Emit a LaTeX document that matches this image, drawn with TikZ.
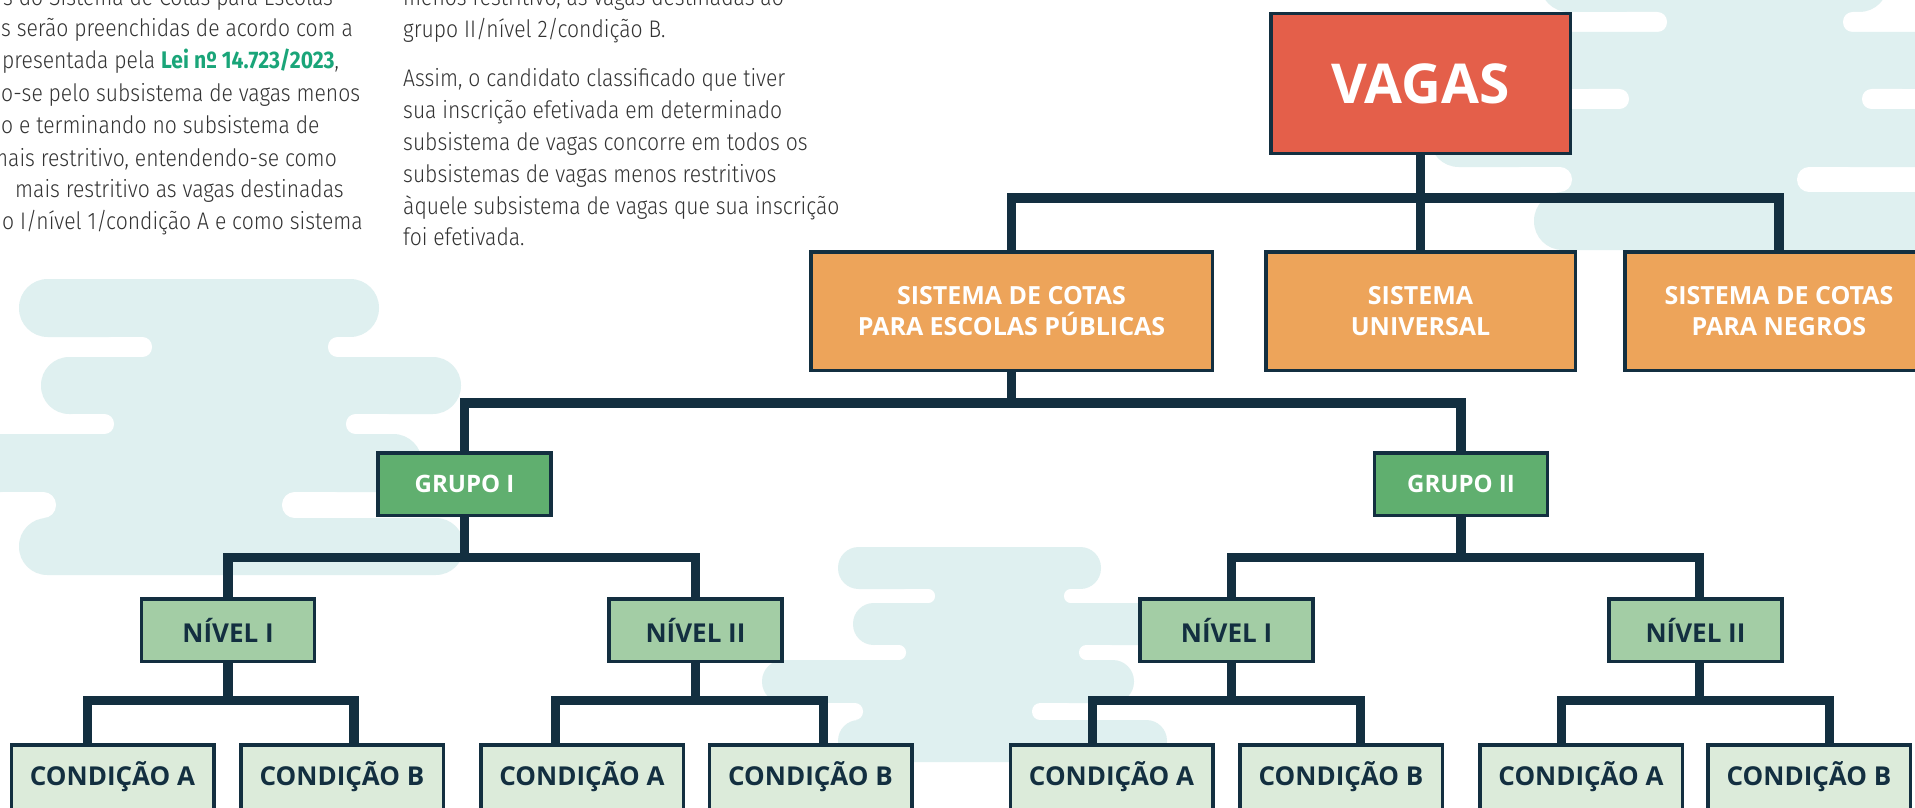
\documentclass[tikz,border=0pt]{standalone}
\usepackage{fontspec}
\setmainfont{Open Sans}
\IfFontExistsTF{Fira Sans Light}%
  {\newfontfamily\bodyfont[FakeStretch=0.88]{Fira Sans Light}}%
  {\newfontfamily\bodyfont[FakeStretch=0.88]{Fira Sans}}
\newfontfamily\leifont[FakeStretch=0.88]{Fira Sans}
\definecolor{navy}{HTML}{132F40}
\definecolor{vred}{HTML}{E45F4A}
\definecolor{vorange}{HTML}{EDA45A}
\definecolor{vgreen}{HTML}{60AF6F}
\definecolor{vlgreen}{HTML}{A3CDA5}
\definecolor{vpale}{HTML}{DCEBDA}
\definecolor{cloudc}{HTML}{DFF0F0}
\definecolor{bodyc}{HTML}{333333}
\definecolor{leic}{HTML}{1AA579}
\newcommand\cpill[4]{%
  \pgfmathsetmacro\rr{abs(#4-#2)/2-0.3}%
  \fill[cloudc, rounded corners=\rr pt] (#1,#2) rectangle (#3,#4);}
\newcommand\cgap[4]{%
  \pgfmathsetmacro\rr{abs(#4-#3)/2-0.3}%
  \pgfmathsetmacro\hh{abs(#4-#3)}%
  \fill[cloudc] ({#1-\hh},#3) rectangle ({#2+\hh},#4);
  \fill[white, rounded corners=\rr pt] ({#1-2.5*\hh},#3) rectangle (#1,#4);
  \fill[white, rounded corners=\rr pt] (#2,#3) rectangle ({#2+2.5*\hh},#4);}
\tikzset{
  box/.style={draw=navy, line width=3.5pt, inner sep=0pt, align=center},
  vagasbox/.style={box, fill=vred, text=white, minimum width=299.5pt, minimum height=139.5pt,
    font=\bfseries\fontsize{55}{60}\selectfont},
  sysbox/.style={box, fill=vorange, text=white, minimum height=118.5pt,
    font=\bfseries\fontsize{25}{31}\selectfont},
  grpbox/.style={box, fill=vgreen, text=white, minimum width=173pt, minimum height=62.5pt,
    font=\bfseries\fontsize{24}{28}\selectfont},
  nivbox/.style={box, fill=vlgreen, text=navy, minimum width=173pt, minimum height=62.5pt,
    font=\bfseries\fontsize{26}{30}\selectfont},
  condbox/.style={box, fill=vpale, text=navy, minimum width=202.5pt, minimum height=64.5pt,
    font=\bfseries\fontsize{26}{30}\selectfont},
  conn/.style={draw=navy, line width=9.5pt, line join=miter},
  body/.style={anchor=base west, inner sep=0pt, text=bodyc,
    font=\bodyfont\fontsize{24}{32}\selectfont},
}
\begin{document}
\begin{tikzpicture}[x=1pt,y=-1pt]
\useasboundingbox (0,0) rectangle (1915,808);
\clip (0,0) rectangle (1915,808);
\fill[white] (0,0) rectangle (1915,808);
% ---- clouds: left
\cpill{19}{279}{379}{337}
\cgap{152}{328}{337}{357}
\cpill{41}{357}{461}{414}
\cgap{114}{346}{414}{434}
\cpill{-60}{434}{422}{492}
\cgap{56}{282}{492}{518}
\cpill{19}{518}{464}{575}
% ---- clouds: middle
\cpill{838}{547}{1101}{589}
\cgap{935}{1064}{589}{603}
\cpill{853}{603}{1160}{645}
\cgap{906}{1079}{645}{660}
\cpill{762}{660}{1134}{703}
\cgap{863}{1032}{703}{720}
\cpill{838}{720}{1167}{762}
% ---- clouds: top right
\cpill{1540}{-46}{1888}{12}
\cgap{1667}{1843}{12}{32}
\cpill{1450}{32}{1990}{89}
\cgap{1629}{1862}{89}{109}
\cpill{1430}{109}{1990}{167}
\cgap{1572}{1797}{167}{192}
\cpill{1534}{192}{1990}{250}
% ---- body text, left column
\node[body] (l0) at (3,6) {s do Sistema de Cotas para Escolas};
\node[body] (l1) at (1,37) {s serão preenchidas de acordo com a};
\node[body] (l2) at (2,69) {presentada pela {\leifont\bfseries\color{leic}Lei nº 14.723/2023},};
\node[body] (l3) at (1,101) {o-se pelo subsistema de vagas menos};
\node[body] (l4) at (1,133) {o e terminando no subsistema de};
\node[body] (l5) at (-10,166) {mais restritivo, entendendo-se como};
\node[body] (l6) at (15,197) {mais restritivo as vagas destinadas};
\node[body] (l7) at (2,229) {o I/nível 1/condição A e como sistema};
% ---- body text, right column
\node[body] (r0) at (403,6) {menos restritivo, as vagas destinadas ao};
\node[body] (r1) at (403,38) {grupo II/nível 2/condição B.};
\node[body] (r2) at (403,86) {Assim, o candidato classificado que tiver};
\node[body] (r3) at (403,118) {sua inscrição efetivada em determinado};
\node[body] (r4) at (403,150) {subsistema de vagas concorre em todos os};
\node[body] (r5) at (403,182) {subsistemas de vagas menos restritivos};
\node[body] (r6) at (403,214) {àquele subsistema de vagas que sua inscrição};
\node[body] (r7) at (403,245) {foi efetivada.};
% ---- bar levels
\coordinate (y1) at (0,198);
\coordinate (y2) at (0,403);
\coordinate (y3) at (0,557.5);
\coordinate (y4) at (0,700.5);
% ---- nodes
\node[vagasbox] (vagas) at (1420.5,83.5) {VAGAS};
\node[sysbox, minimum width=401.5pt] (esc) at (1011.5,311) {SISTEMA DE COTAS\\PARA ESCOLAS PÚBLICAS};
\node[sysbox, minimum width=309.5pt] (univ) at (1420.5,311) {SISTEMA\\UNIVERSAL};
\node[sysbox, minimum width=308.5pt] (neg) at (1779,311) {SISTEMA DE COTAS\\PARA NEGROS};
\node[grpbox] (g1) at (464.5,484) {GRUPO I};
\node[grpbox] (g2) at (1461,484) {GRUPO II};
\node[nivbox] (n1) at (228,630) {NÍVEL I};
\node[nivbox] (n2) at (695.5,630) {NÍVEL II};
\node[nivbox] (n3) at (1226.5,630) {NÍVEL I};
\node[nivbox] (n4) at (1695.5,630) {NÍVEL II};
\node[condbox] (c1) at (112.5,777) {CONDIÇÃO A};
\node[condbox] (c2) at (342,777) {CONDIÇÃO B};
\node[condbox] (c3) at (582,777) {CONDIÇÃO A};
\node[condbox] (c4) at (810.5,777) {CONDIÇÃO B};
\node[condbox] (c5) at (1111.5,777) {CONDIÇÃO A};
\node[condbox] (c6) at (1341,777) {CONDIÇÃO B};
\node[condbox] (c7) at (1581,777) {CONDIÇÃO A};
\node[condbox] (c8) at (1809,777) {CONDIÇÃO B};
% ---- connectors
\draw[conn] (vagas.south) -- (univ.north);
\draw[conn] (esc.north) -- (esc.north |- y1) -- (neg.north |- y1) -- (neg.north);
\draw[conn] (esc.south) -- (esc.south |- y2);
\draw[conn] (g1.north) -- (g1.north |- y2) -- (g2.north |- y2) -- (g2.north);
\draw[conn] (g1.south) -- (g1.south |- y3);
\draw[conn] (n1.north) -- (n1.north |- y3) -- (n2.north |- y3) -- (n2.north);
\draw[conn] (g2.south) -- (g2.south |- y3);
\draw[conn] ([xshift=5pt]n3.north) -- ([xshift=5pt]n3.north |- y3) -- ([xshift=4pt]n4.north |- y3) -- ([xshift=4pt]n4.north);
\draw[conn] (n1.south) -- (n1.south |- y4);
\draw[conn] ([xshift=-25pt]c1.north) -- ([xshift=-25pt]c1.north |- y4) -- ([xshift=12pt]c2.north |- y4) -- ([xshift=12pt]c2.north);
\draw[conn] (n2.south) -- (n2.south |- y4);
\draw[conn] ([xshift=-26.5pt]c3.north) -- ([xshift=-26.5pt]c3.north |- y4) -- ([xshift=13pt]c4.north |- y4) -- ([xshift=13pt]c4.north);
\draw[conn] ([xshift=5pt]n3.south) -- ([xshift=5pt]n3.south |- y4);
\draw[conn] ([xshift=-19pt]c5.north) -- ([xshift=-19pt]c5.north |- y4) -- ([xshift=19.5pt]c6.north |- y4) -- ([xshift=19.5pt]c6.north);
\draw[conn] ([xshift=4pt]n4.south) -- ([xshift=4pt]n4.south |- y4);
\draw[conn] ([xshift=-19.5pt]c7.north) -- ([xshift=-19.5pt]c7.north |- y4) -- ([xshift=20.5pt]c8.north |- y4) -- ([xshift=20.5pt]c8.north);
\end{tikzpicture}
\end{document}
